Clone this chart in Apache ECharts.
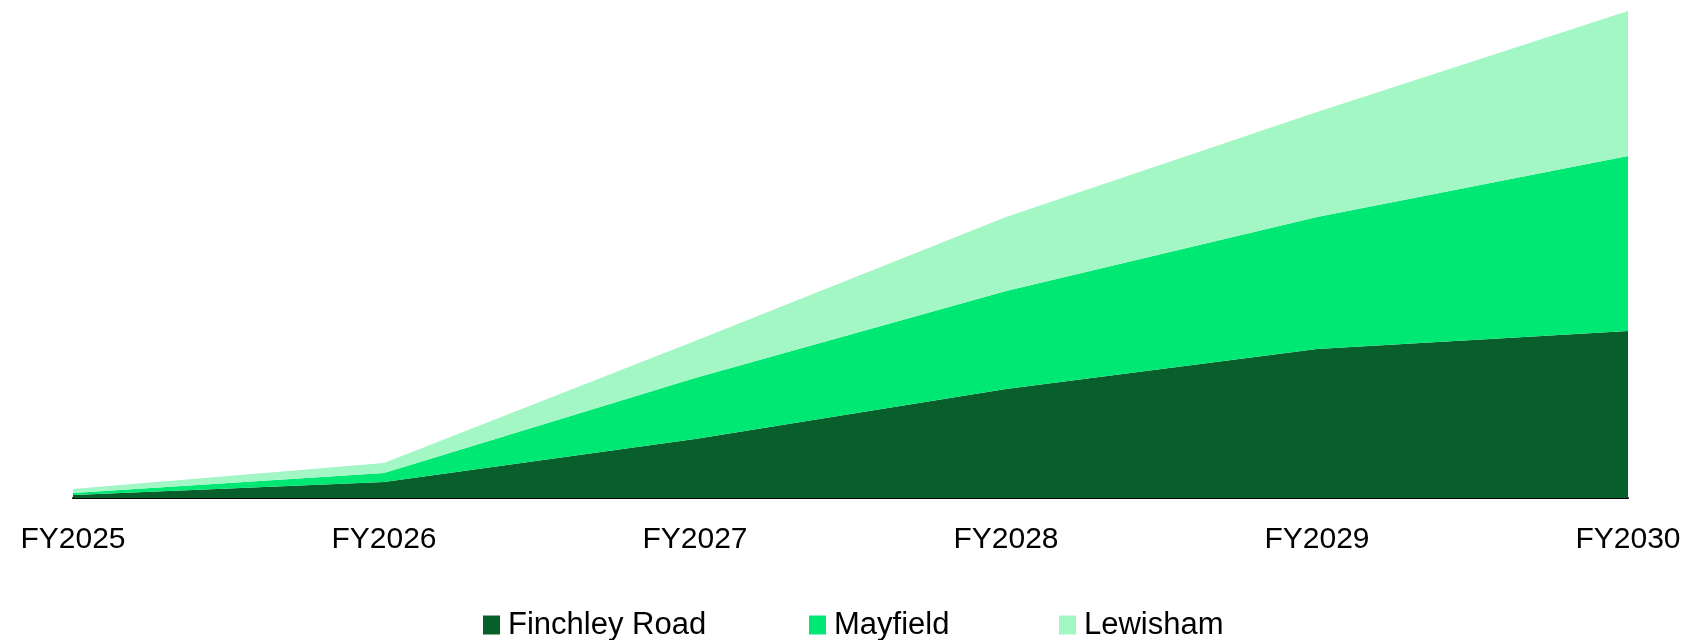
<!DOCTYPE html>
<html><head><meta charset="utf-8">
<script src="https://cdn.jsdelivr.net/npm/echarts@6/dist/echarts.min.js"></script>
<style>html,body{margin:0;padding:0;background:#fff}#c{width:1684px;height:640px}</style>
</head><body><div id="c"></div>
<script>
const categories = ['FY2025','FY2026','FY2027','FY2028','FY2029','FY2030'];
const finchleyRoad = [3, 16, 59, 109, 149, 167];
const mayfield = [2, 9, 61, 98, 132, 175];
const lewisham = [4, 10, 37, 74, 105, 145];
const seriesNames = ['Finchley Road','Mayfield','Lewisham'];
const colors = ['#095f2b','#00e874','#a2f7c5'];
const chart = echarts.init(document.getElementById('c'), null, {renderer:'canvas'});
const mk = (name, data, color) => ({
  name, type:'line', stack:'total', data, symbol:'none', smooth:false,
  lineStyle:{width:0}, areaStyle:{color, opacity:1}, itemStyle:{color}
});
const legendItem = (name, left) => ({
  data:[name], left, top:608, itemWidth:17, itemHeight:19, itemGap:0, padding:[0,0,0,0],
  icon:'rect', textStyle:{fontFamily:'Liberation Sans', fontSize:31, lineHeight:34, color:'#000', padding:[0,0,0,3]}
});
chart.setOption({
  animation:false,
  backgroundColor:'#fff',
  grid:{left:73, right:56, top:11, bottom:142, containLabel:false, outerBoundsMode:'none'},
  xAxis:{type:'category', data:categories, boundaryGap:false,
    axisLine:{show:true, lineStyle:{color:'#000', width:2}},
    axisTick:{show:false}, splitLine:{show:false},
    axisLabel:{fontFamily:'Liberation Sans', fontSize:30, color:'#000', margin:27}},
  yAxis:{type:'value', min:0, max:487, show:false, splitLine:{show:false}},
  legend:[legendItem(seriesNames[0], 483), legendItem(seriesNames[1], 809), legendItem(seriesNames[2], 1059)],
  series:[mk(seriesNames[0], finchleyRoad, colors[0]), mk(seriesNames[1], mayfield, colors[1]), mk(seriesNames[2], lewisham, colors[2])]
});
</script></body></html>
